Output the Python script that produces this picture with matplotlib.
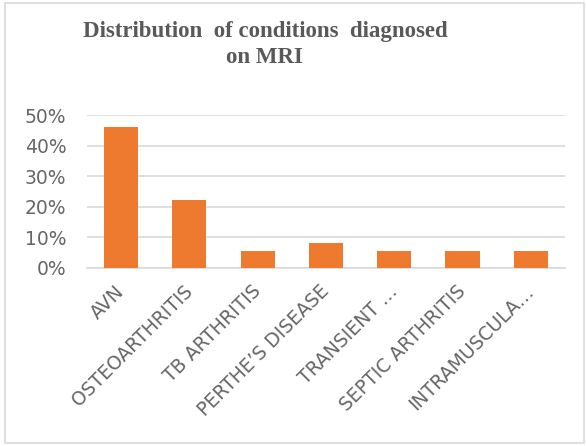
import matplotlib.pyplot as plt
from matplotlib.patches import Rectangle
from matplotlib.ticker import PercentFormatter

conditions = ["AVN", "OSTEOARTHRITIS", "TB ARTHRITIS", "PERTHE\u2019S DISEASE",
              "TRANSIENT \u2026", "SEPTIC ARTHRITIS", "INTRAMUSCULA\u2026"]
share = [46, 22, 5.5, 8, 5.5, 5.5, 5.5]
yticks = [0, 10, 20, 30, 40, 50]

grey = "#595959"

fig = plt.figure(figsize=(5.86, 4.46), dpi=100)
ax = fig.add_axes([0.1485, 0.40, 0.8155, 0.342])

ax.bar(range(len(conditions)), share, width=0.5, color="#ED7A2E", zorder=3)

ax.set_xlim(-0.5, len(conditions) - 0.5)
ax.set_ylim(0, 50)
ax.set_yticks(yticks)
ax.yaxis.set_major_formatter(PercentFormatter(decimals=0))
ax.grid(axis="y", color="#D9D9D9", linewidth=1.2, zorder=0)
for side in ["top", "right", "left"]:
    ax.spines[side].set_visible(False)
ax.spines["bottom"].set_color("#D9D9D9")
ax.spines["bottom"].set_linewidth(1.2)
ax.tick_params(length=0)
ax.tick_params(axis="y", labelsize=13.5, labelcolor="#666666", pad=15)

ax.set_xticks(range(len(conditions)))
ax.set_xticklabels(conditions, rotation=45, ha="right", va="center",
                   rotation_mode="anchor", fontsize=13.5, color="#666666")
ax.tick_params(axis="x", pad=15)

fig.text(0.452, 0.953, "Distribution  of conditions  diagnosed\non MRI",
         ha="center", va="top", fontsize=16.5, fontweight="bold",
         family="Liberation Serif", color=grey, linespacing=1.3)

# light frame round the chart area
fig.patches.append(Rectangle((0.009, 0.007), 0.988, 0.986, transform=fig.transFigure,
                             fill=False, edgecolor="#D9D9D9", linewidth=1.2))

fig.savefig("out.png", dpi=100)
